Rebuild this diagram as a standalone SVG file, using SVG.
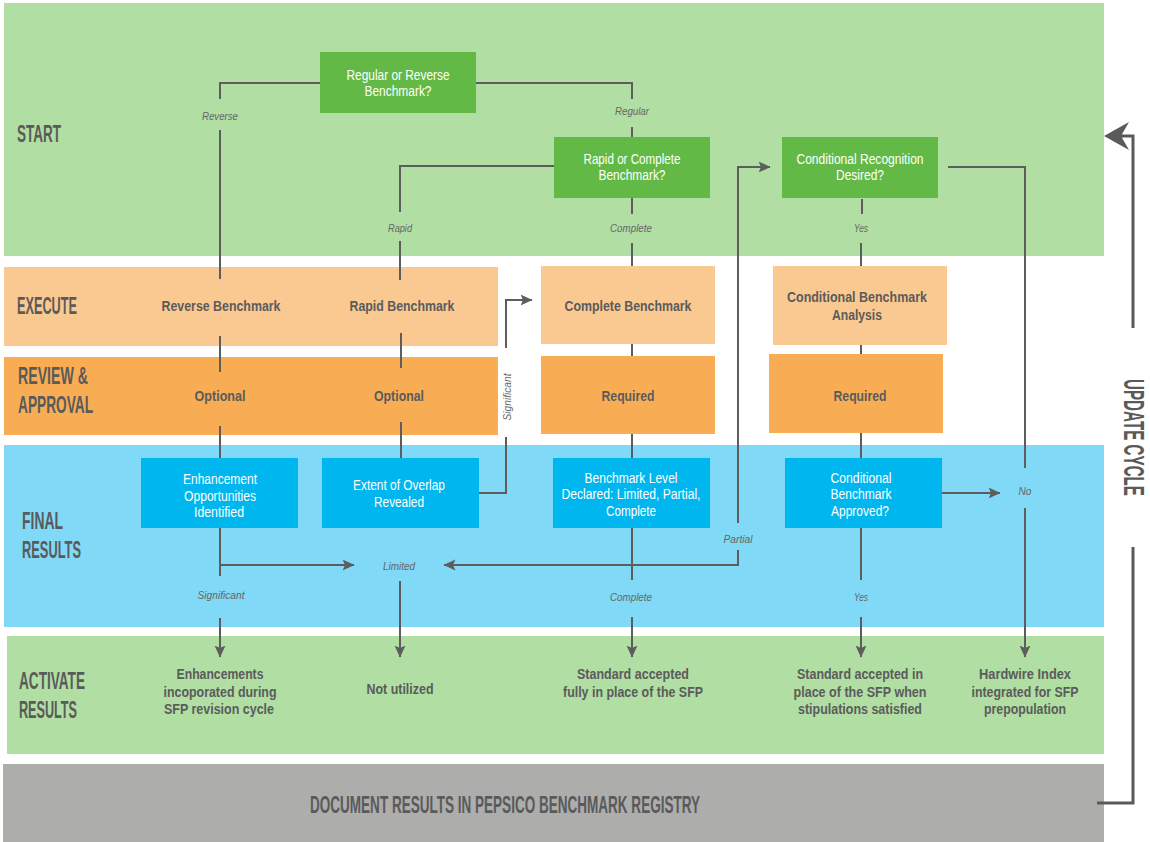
<svg xmlns="http://www.w3.org/2000/svg" width="1150" height="842" viewBox="0 0 1150 842">
<style>
text{font-family:"Liberation Sans Narrow","Liberation Sans",Arial,sans-serif}
.band{font-size:24px;font-weight:bold;fill:#5a5a5a}
.ntw{font-size:14px;fill:#ffffff;text-anchor:middle}
.ntd{font-size:14.5px;font-weight:bold;fill:#5b5b5b;text-anchor:middle}
.lbl{font-size:10.5px;font-style:italic;fill:#666666;text-anchor:middle}
.ln{fill:none;stroke:#5d5d5d;stroke-width:2}
.lna{fill:none;stroke:#5d5d5d;stroke-width:2;marker-end:url(#ah)}
.upd{fill:none;stroke:#5a5a5a;stroke-width:3}
.gbox{fill:#63b946}
.bbox{fill:#00b6ee}
.obox1{fill:#fac991}
.obox2{fill:#f8ad55}
</style>
<defs>
<marker id="ah" viewBox="0 0 12 12" markerWidth="12" markerHeight="12" refX="11.5" refY="6" orient="auto" markerUnits="userSpaceOnUse">
<path d="M0,0.5 L12,6 L0,11.5 L2.5,6 Z" fill="#5d5d5d"/>
</marker>
</defs>
<rect width="1150" height="842" fill="#ffffff"/>
<g id="lanes">
<rect x="4" y="3" width="1100" height="253" fill="#b0dea3"/>
<rect x="4" y="267" width="494" height="79" fill="#fac991"/>
<rect x="4" y="357" width="494" height="78" fill="#f8ad55"/>
<rect x="4" y="445" width="1100" height="182" fill="#80d9f7"/>
<rect x="7" y="636" width="1097" height="118" fill="#b0dea3"/>
<rect x="3" y="764" width="1101" height="78" fill="#adadac"/>
<text class="band" x="17" y="142" textLength="44" lengthAdjust="spacingAndGlyphs">START</text>
<text class="band" x="17" y="314" textLength="60" lengthAdjust="spacingAndGlyphs">EXECUTE</text>
<text class="band" x="18" y="384" textLength="70" lengthAdjust="spacingAndGlyphs">REVIEW &amp;</text>
<text class="band" x="18" y="413" textLength="75" lengthAdjust="spacingAndGlyphs">APPROVAL</text>
<text class="band" x="22" y="529" textLength="41" lengthAdjust="spacingAndGlyphs">FINAL</text>
<text class="band" x="22" y="558" textLength="59" lengthAdjust="spacingAndGlyphs">RESULTS</text>
<text class="band" x="19" y="689" textLength="66" lengthAdjust="spacingAndGlyphs">ACTIVATE</text>
<text class="band" x="19" y="718" textLength="58" lengthAdjust="spacingAndGlyphs">RESULTS</text>
<text class="band" x="505" y="813" text-anchor="middle" textLength="390" lengthAdjust="spacingAndGlyphs">DOCUMENT RESULTS IN PEPSICO BENCHMARK REGISTRY</text>
<text class="band" transform="translate(1124,379) rotate(90)" style="font-size:29px" textLength="117" lengthAdjust="spacingAndGlyphs">UPDATE CYCLE</text>
</g>
<g id="connectors">
<path class="ln" d="M320,83 H220 V99"/>
<path class="ln" d="M220,130 V279"/>
<path class="ln" d="M220,336 V372"/>
<path class="ln" d="M220,426 V458"/>
<path class="ln" d="M220,528 V576"/>
<path class="lna" d="M220,565 H354"/>
<path class="lna" d="M220,618 V657"/>
<path class="ln" d="M476,83 H632 V99"/>
<path class="ln" d="M632,127 V137"/>
<path class="ln" d="M554,166 H400 V212"/>
<path class="ln" d="M400,241 V280"/>
<path class="ln" d="M401,333 V368"/>
<path class="ln" d="M401,422 V458"/>
<path class="ln" d="M479,493 H506 V437"/>
<path class="lna" d="M506,348 V300 H532"/>
<path class="lna" d="M400,581 V657"/>
<path class="ln" d="M632,198 V214"/>
<path class="ln" d="M632,243 V279"/>
<path class="ln" d="M632,334 V369"/>
<path class="ln" d="M632,423 V458"/>
<path class="ln" d="M632,528 V580"/>
<path class="lna" d="M632,617 V657"/>
<path class="lna" d="M738,523 V167 H770"/>
<path class="lna" d="M738,550 V565 H444"/>
<path class="ln" d="M862,199 V214"/>
<path class="ln" d="M861,243 V278"/>
<path class="ln" d="M861,334 V369"/>
<path class="ln" d="M861,423 V459"/>
<path class="ln" d="M861,528 V580"/>
<path class="lna" d="M861,617 V657"/>
<path class="ln" d="M948,167 H1025 V468"/>
<path class="lna" d="M1025,508 V657"/>
<path class="lna" d="M934,493 H1000"/>
<path class="upd" d="M1097,803 H1133 V547"/>
<path class="upd" d="M1133,328 V136 H1118"/>
<path d="M1104,136 L1129,122 L1121,136 L1129,150 Z" fill="#5a5a5a"/>
<text class="lbl" x="220" y="120" textLength="36" lengthAdjust="spacingAndGlyphs">Reverse</text>
<text class="lbl" x="632" y="115" textLength="34" lengthAdjust="spacingAndGlyphs">Regular</text>
<text class="lbl" x="400" y="232" textLength="24" lengthAdjust="spacingAndGlyphs">Rapid</text>
<text class="lbl" x="631" y="232" textLength="42" lengthAdjust="spacingAndGlyphs">Complete</text>
<text class="lbl" x="861" y="232" textLength="14" lengthAdjust="spacingAndGlyphs">Yes</text>
<text class="lbl" transform="translate(511,397) rotate(-90)" textLength="47" lengthAdjust="spacingAndGlyphs">Significant</text>
<text class="lbl" x="399" y="570" textLength="32" lengthAdjust="spacingAndGlyphs">Limited</text>
<text class="lbl" x="221" y="599" textLength="47" lengthAdjust="spacingAndGlyphs">Significant</text>
<text class="lbl" x="738" y="543" textLength="29" lengthAdjust="spacingAndGlyphs">Partial</text>
<text class="lbl" x="631" y="601" textLength="42" lengthAdjust="spacingAndGlyphs">Complete</text>
<text class="lbl" x="861" y="601" textLength="14" lengthAdjust="spacingAndGlyphs">Yes</text>
<text class="lbl" x="1025" y="495" textLength="13" lengthAdjust="spacingAndGlyphs">No</text>
</g>
<g id="n-regular-reverse">
<rect class="gbox" x="320" y="52" width="156" height="61"/>
<text class="ntw" x="398" y="80" textLength="103" lengthAdjust="spacingAndGlyphs">Regular or Reverse</text>
<text class="ntw" x="398" y="96" textLength="67" lengthAdjust="spacingAndGlyphs">Benchmark?</text>
</g>
<g id="n-rapid-complete">
<rect class="gbox" x="554" y="137" width="156" height="61"/>
<text class="ntw" x="632" y="164" textLength="97" lengthAdjust="spacingAndGlyphs">Rapid or Complete</text>
<text class="ntw" x="632" y="180" textLength="67" lengthAdjust="spacingAndGlyphs">Benchmark?</text>
</g>
<g id="n-conditional-recognition">
<rect class="gbox" x="782" y="137" width="156" height="61"/>
<text class="ntw" x="860" y="164" textLength="127" lengthAdjust="spacingAndGlyphs">Conditional Recognition</text>
<text class="ntw" x="860" y="180" textLength="48" lengthAdjust="spacingAndGlyphs">Desired?</text>
</g>
<g id="n-reverse-benchmark">
<text class="ntd" x="221" y="311" textLength="119" lengthAdjust="spacingAndGlyphs">Reverse Benchmark</text>
</g>
<g id="n-rapid-benchmark">
<text class="ntd" x="402" y="311" textLength="105" lengthAdjust="spacingAndGlyphs">Rapid Benchmark</text>
</g>
<g id="n-complete-benchmark">
<rect class="obox1" x="541" y="266" width="174" height="78"/>
<text class="ntd" x="628" y="311" textLength="127" lengthAdjust="spacingAndGlyphs">Complete Benchmark</text>
</g>
<g id="n-conditional-analysis">
<rect class="obox1" x="773" y="266" width="174" height="79"/>
<text class="ntd" x="857" y="302" textLength="140" lengthAdjust="spacingAndGlyphs">Conditional Benchmark</text>
<text class="ntd" x="857" y="320" textLength="50" lengthAdjust="spacingAndGlyphs">Analysis</text>
</g>
<g id="n-optional-1">
<text class="ntd" x="220" y="401" textLength="51" lengthAdjust="spacingAndGlyphs">Optional</text>
</g>
<g id="n-optional-2">
<text class="ntd" x="399" y="401" textLength="50" lengthAdjust="spacingAndGlyphs">Optional</text>
</g>
<g id="n-required-1">
<rect class="obox2" x="541" y="356" width="174" height="78"/>
<text class="ntd" x="628" y="401" textLength="53" lengthAdjust="spacingAndGlyphs">Required</text>
</g>
<g id="n-required-2">
<rect class="obox2" x="769" y="354" width="174" height="79"/>
<text class="ntd" x="860" y="401" textLength="53" lengthAdjust="spacingAndGlyphs">Required</text>
</g>
<g id="n-enhancement-opps">
<rect class="bbox" x="141" y="458" width="157" height="70"/>
<text class="ntw" x="220" y="484" textLength="74" lengthAdjust="spacingAndGlyphs">Enhancement</text>
<text class="ntw" x="220" y="501" textLength="72" lengthAdjust="spacingAndGlyphs">Opportunities</text>
<text class="ntw" x="219" y="517" textLength="50" lengthAdjust="spacingAndGlyphs">Identified</text>
</g>
<g id="n-extent-overlap">
<rect class="bbox" x="322" y="458" width="157" height="70"/>
<text class="ntw" x="399" y="490" textLength="92" lengthAdjust="spacingAndGlyphs">Extent of Overlap</text>
<text class="ntw" x="399" y="507" textLength="50" lengthAdjust="spacingAndGlyphs">Revealed</text>
</g>
<g id="n-benchmark-level">
<rect class="bbox" x="553" y="458" width="157" height="70"/>
<text class="ntw" x="631" y="483" textLength="93" lengthAdjust="spacingAndGlyphs">Benchmark Level</text>
<text class="ntw" x="631" y="499" textLength="139" lengthAdjust="spacingAndGlyphs">Declared: Limited, Partial,</text>
<text class="ntw" x="631" y="516" textLength="50" lengthAdjust="spacingAndGlyphs">Complete</text>
</g>
<g id="n-conditional-approved">
<rect class="bbox" x="785" y="458" width="157" height="70"/>
<text class="ntw" x="861" y="483" textLength="61" lengthAdjust="spacingAndGlyphs">Conditional</text>
<text class="ntw" x="861" y="499" textLength="61" lengthAdjust="spacingAndGlyphs">Benchmark</text>
<text class="ntw" x="860" y="516" textLength="58" lengthAdjust="spacingAndGlyphs">Approved?</text>
</g>
<g id="n-enhancements-incorporated">
<text class="ntd" x="220" y="679" textLength="87" lengthAdjust="spacingAndGlyphs">Enhancements</text>
<text class="ntd" x="220" y="697" textLength="113" lengthAdjust="spacingAndGlyphs">incoporated during</text>
<text class="ntd" x="219" y="714" textLength="110" lengthAdjust="spacingAndGlyphs">SFP revision cycle</text>
</g>
<g id="n-not-utilized">
<text class="ntd" x="400" y="694" textLength="67" lengthAdjust="spacingAndGlyphs">Not utilized</text>
</g>
<g id="n-standard-full">
<text class="ntd" x="633" y="679" textLength="112" lengthAdjust="spacingAndGlyphs">Standard accepted</text>
<text class="ntd" x="633" y="697" textLength="140" lengthAdjust="spacingAndGlyphs">fully in place of the SFP</text>
</g>
<g id="n-standard-conditional">
<text class="ntd" x="860" y="679" textLength="126" lengthAdjust="spacingAndGlyphs">Standard accepted in</text>
<text class="ntd" x="860" y="697" textLength="133" lengthAdjust="spacingAndGlyphs">place of the SFP when</text>
<text class="ntd" x="860" y="714" textLength="124" lengthAdjust="spacingAndGlyphs">stipulations satisfied</text>
</g>
<g id="n-hardwire-index">
<text class="ntd" x="1025" y="679" textLength="92" lengthAdjust="spacingAndGlyphs">Hardwire Index</text>
<text class="ntd" x="1025" y="697" textLength="107" lengthAdjust="spacingAndGlyphs">integrated for SFP</text>
<text class="ntd" x="1025" y="714" textLength="82" lengthAdjust="spacingAndGlyphs">prepopulation</text>
</g>
</svg>
